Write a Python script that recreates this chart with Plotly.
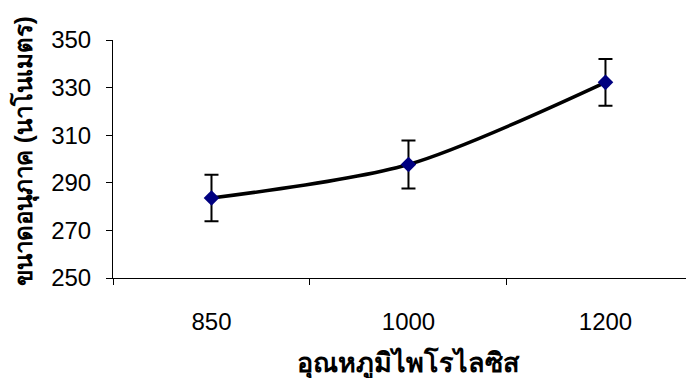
import plotly.graph_objects as go

categories = ["850", "1000", "1200"]
sizes_nm = [283.6, 297.7, 332.2]
errors_nm = [9.8, 10.1, 9.8]
y_ticks = [250, 270, 290, 310, 330, 350]

x_title = "อุณหภูมิไพโรไลซิส"
y_title = "ขนาดอนุภาค (นาโนเมตร)"

fig = go.Figure()
fig.add_trace(go.Scatter(
    x=categories, y=sizes_nm,
    mode="lines",
    line=dict(color="black", width=3.5, shape="spline", smoothing=0.8),
    hoverinfo="skip", showlegend=False,
))
fig.add_trace(go.Scatter(
    x=categories, y=sizes_nm,
    mode="markers",
    marker=dict(symbol="diamond", size=12, color="#000080"),
    error_y=dict(type="data", array=errors_nm, visible=True,
                 color="black", thickness=2, width=7),
    showlegend=False,
))

fig.update_layout(
    width=694, height=378,
    margin=dict(l=105, r=0, t=32, b=108),
    paper_bgcolor="white", plot_bgcolor="white",
    font=dict(family="Liberation Sans, Arial, sans-serif", color="black", size=24),
)
fig.update_xaxes(
    type="category", range=[-0.5, 2.49], automargin=False,
    tickson="boundaries", ticks="outside", ticklen=6, tickcolor="black",
    showline=True, linecolor="black", linewidth=1,
    showgrid=False, zeroline=False,
    tickfont=dict(size=24), ticklabelstandoff=22,
)
fig.update_yaxes(
    range=[250, 350], tickvals=y_ticks, automargin=False,
    ticks="outside", ticklen=6, tickcolor="black",
    showline=True, linecolor="black", linewidth=1,
    showgrid=False, zeroline=False,
    tickfont=dict(size=24), ticklabelstandoff=10,
)

fig.add_annotation(
    text="<b>" + x_title + "</b>", xref="x", x=1,
    yref="paper", y=-0.357, xanchor="center", yanchor="middle",
    showarrow=False, font=dict(size=27),
)
fig.add_annotation(
    text="<b>" + y_title + "</b>", xref="paper", x=-0.1494,
    yref="paper", y=0.534, xanchor="center", yanchor="middle",
    textangle=-90, showarrow=False, font=dict(size=24),
)

fig.write_html("out.html")
